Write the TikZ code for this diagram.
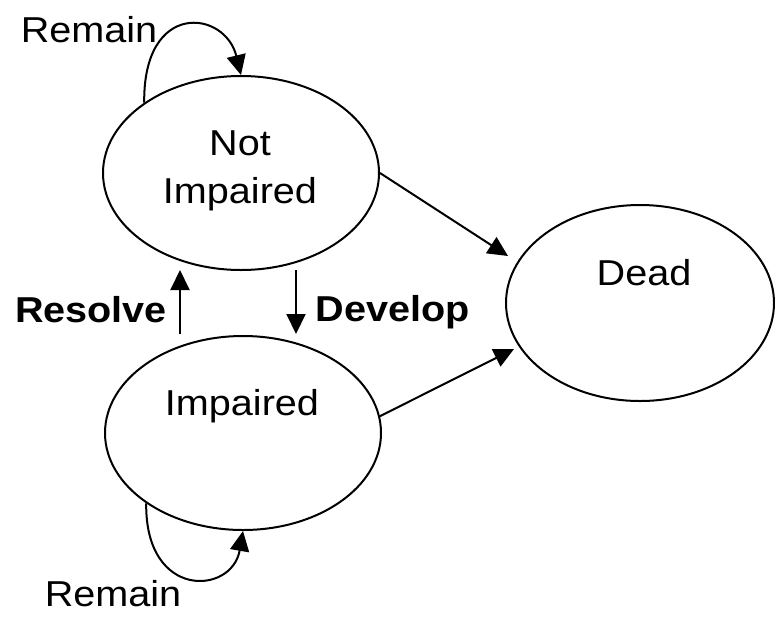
\documentclass[tikz,border=0pt]{standalone}
\usepackage{fontspec}
\setmainfont{Liberation Sans}
\usetikzlibrary{shapes.geometric,arrows.meta}
\newcommand{\hx}[1]{\scalebox{1.1}[1]{#1}}
\begin{document}
\begin{tikzpicture}[x=1pt,y=-1pt,
  state/.style={draw,ellipse,line width=2pt,inner sep=0pt},
  lbl/.style={anchor=base,inner sep=0pt,font=\fontsize{36}{40}\selectfont},
  blbl/.style={anchor=base,inner sep=0pt,font=\fontsize{36}{40}\selectfont\bfseries},
  conn/.style={line width=2pt,-{Triangle[length=20pt,width=19pt]}}]
\useasboundingbox (0,0) rectangle (775,616);
% states
\node[state,minimum width=276pt,minimum height=194pt] (NI) at (241,173) {};
\node[state,minimum width=276pt,minimum height=194pt] (I) at (243,433) {};
\node[state,minimum width=268pt,minimum height=196pt] (D) at (640,303) {};
% state texts
\node[lbl] (tNot) at (240,155) {\hx{Not}};
\node[lbl] (tImp1) at (240,203) {\hx{Impaired}};
\node[lbl] (tImp2) at (242,415) {\hx{Impaired}};
\node[lbl] (tDead) at (644,285) {\hx{Dead}};
% transition labels
\node[lbl] (rem1) at (89,42) {\hx{Remain}};
\node[lbl] (rem2) at (113,606) {\hx{Remain}};
\node[blbl] (res) at (91,322) {\hx{Resolve}};
\node[blbl] (dev) at (393,321) {\hx{Develop}};
% free ends
\coordinate (r0) at (180,334);
\coordinate (r1) at (180,270);
\coordinate (d0) at (296,270);
\coordinate (d1) at (296,334);
\coordinate (t1) at (508,256);
\coordinate (t2) at (514,349);
% connectors
\draw[conn] (r0) -- (r1);
\draw[conn] (d0) -- (d1);
\draw[conn] (NI.east) -- (t1);
\draw[conn] (I.7) -- (t2);
\draw[conn] (NI.144) .. controls (143,0) and (225,10) .. (NI.north);
\draw[conn] (I.216) .. controls (145,600) and (232,595) .. (I.south);
\end{tikzpicture}
\end{document}
